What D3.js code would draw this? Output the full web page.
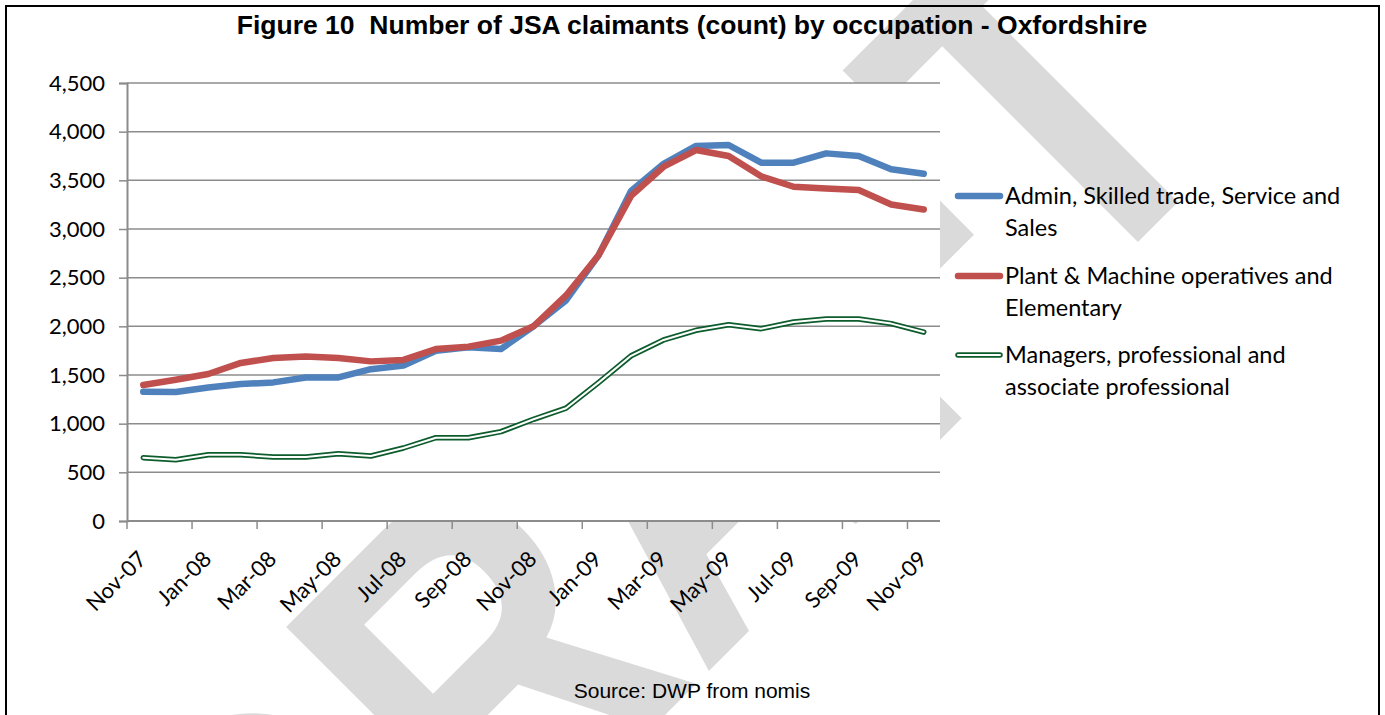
<!DOCTYPE html>
<html>
<head>
<meta charset="utf-8">
<script src="https://cdn.jsdelivr.net/npm/d3@7"></script>
<style>
    body { margin: 0; background: #ffffff; }
</style>
</head>
<body>
<script>
// Chart data
const MONTHS = ["Nov-07", "Dec-07", "Jan-08", "Feb-08", "Mar-08", "Apr-08", "May-08", "Jun-08",
    "Jul-08", "Aug-08", "Sep-08", "Oct-08", "Nov-08", "Dec-08", "Jan-09", "Feb-09", "Mar-09",
    "Apr-09", "May-09", "Jun-09", "Jul-09", "Aug-09", "Sep-09", "Oct-09", "Nov-09"];
const ADMIN = [1328, 1325, 1372, 1407, 1424, 1475, 1475, 1560, 1598, 1750, 1784, 1767, 2000,
    2267, 2730, 3390, 3670, 3853, 3863, 3681, 3681, 3777, 3750, 3613, 3567];
const PLANT = [1397, 1452, 1510, 1624, 1675, 1689, 1675, 1640, 1655, 1767, 1791, 1853, 2000,
    2317, 2730, 3340, 3640, 3811, 3750, 3541, 3434, 3417, 3400, 3252, 3200];
const MANAGERS = [651, 630, 681, 681, 657, 657, 692, 668, 750, 856, 856, 918, 1045,
    1159, 1422, 1697, 1860, 1959, 2017, 1976, 2045, 2076, 2076, 2028, 1941];
const Y_TICKS = [0, 500, 1000, 1500, 2000, 2500, 3000, 3500, 4000, 4500];
const X_LABELS = MONTHS.filter((m, i) => i % 2 === 0);
const SERIES_LABELS = [
    ["Admin, Skilled trade, Service and", "Sales"],
    ["Plant & Machine operatives and", "Elementary"],
    ["Managers, professional and", "associate professional"]
];
const TITLE = "Figure 10  Number of JSA claimants (count) by occupation - Oxfordshire";
const SOURCE = "Source: DWP from nomis";

const WIDTH = 1385;
const HEIGHT = 715;
const PLOT = { left: 127, right: 940, top: 83, bottom: 521 };
const BODY_FONT = "Lato, 'Open Sans', sans-serif";
const ARIAL = "'Liberation Sans', Arial, sans-serif";
const GRID = "#8c8c8c";

const xScale = d3.scaleBand().domain(MONTHS).range([PLOT.left, PLOT.right]);
const yScale = d3.scaleLinear().domain([0, 4500]).range([PLOT.bottom, PLOT.top]);
const xMid = m => xScale(m) + xScale.bandwidth() / 2;

const svg = d3.select("body").append("svg")
    .attr("width", WIDTH)
    .attr("height", HEIGHT)
    .attr("viewBox", [0, 0, WIDTH, HEIGHT]);

svg.append("rect").attr("width", WIDTH).attr("height", HEIGHT).style("fill", "#ffffff");

// DRAFT watermark behind everything (narrow bold, diagonal)
svg.append("text")
    .text("DRAFT")
    .attr("transform", "translate(300,1080) rotate(-45) scale(0.82,1)")
    .attr("text-anchor", "start")
    .style("font-family", ARIAL)
    .style("font-weight", "bold")
    .style("font-size", "480px")
    .style("fill", "#dadada");

// Outer frame
svg.append("rect")
    .attr("x", 6).attr("y", 6)
    .attr("width", 1373).attr("height", 740)
    .style("fill", "none")
    .style("stroke", "#000000")
    .style("stroke-width", 2);

// Plot area (white, hides the watermark)
svg.append("rect")
    .attr("x", PLOT.left).attr("y", PLOT.top)
    .attr("width", PLOT.right - PLOT.left)
    .attr("height", PLOT.bottom - PLOT.top)
    .style("fill", "#ffffff");

// Title
svg.append("text")
    .text(TITLE)
    .attr("x", 692).attr("y", 34)
    .attr("text-anchor", "middle")
    .style("white-space", "pre")
    .style("font-family", ARIAL)
    .style("font-weight", "bold")
    .style("font-size", "26.5px");

// Horizontal grid lines
svg.append("g")
    .selectAll("line")
    .data(Y_TICKS.filter(d => d > 0))
    .join("line")
    .attr("x1", PLOT.left).attr("x2", PLOT.right)
    .attr("y1", d => yScale(d)).attr("y2", d => yScale(d))
    .style("stroke", GRID)
    .style("stroke-width", 1.5);

// Y axis
const yAxis = svg.append("g")
    .attr("transform", `translate(${PLOT.left},0)`)
    .call(d3.axisLeft(yScale).tickValues(Y_TICKS).tickFormat(d3.format(",")).tickSize(8).tickPadding(14));
yAxis.select(".domain").style("stroke", GRID).style("stroke-width", 2);
yAxis.selectAll(".tick line").style("stroke", GRID).style("stroke-width", 1.5);
yAxis.selectAll("text")
    .style("font-family", BODY_FONT)
    .style("font-size", "22px")
    .style("fill", "#000");

// X axis: ticks on category boundaries every two months
const xAxis = svg.append("g")
    .attr("transform", `translate(0,${PLOT.bottom})`);
xAxis.append("line")
    .attr("x1", PLOT.left).attr("x2", PLOT.right)
    .style("stroke", GRID).style("stroke-width", 2);
xAxis.selectAll("line.tk")
    .data(X_LABELS)
    .join("line")
    .attr("class", "tk")
    .attr("x1", d => xScale(d)).attr("x2", d => xScale(d))
    .attr("y1", 0).attr("y2", 8)
    .style("stroke", GRID).style("stroke-width", 1.5);
xAxis.selectAll("text")
    .data(X_LABELS)
    .join("text")
    .text(d => d)
    .attr("transform", d => `translate(${xMid(d) - 1},34) rotate(-45)`)
    .attr("dy", "0.35em")
    .attr("text-anchor", "end")
    .style("font-family", BODY_FONT)
    .style("font-size", "22px");

// Lines
const line = d3.line()
    .x((d, i) => xMid(MONTHS[i]))
    .y(d => yScale(d));

function drawSeries(values, colour, width) {
    svg.append("path")
        .datum(values)
        .attr("d", line)
        .style("fill", "none")
        .style("stroke", colour)
        .style("stroke-width", width)
        .style("stroke-linejoin", "round")
        .style("stroke-linecap", "round");
}
drawSeries(ADMIN, "#4f81bd", 6.5);
drawSeries(PLANT, "#c0504d", 6.5);
drawSeries(MANAGERS, "#0d5c2c", 5.5);
drawSeries(MANAGERS, "#ffffff", 2);

// Legend
const legendY = [196, 276, 355];
const legendColours = ["#4f81bd", "#c0504d", "#0d5c2c"];
SERIES_LABELS.forEach(function(lines, k) {
    const g = svg.append("g").attr("transform", `translate(0,${legendY[k]})`);
    g.append("line")
        .attr("x1", 958).attr("x2", 1000)
        .style("stroke", legendColours[k])
        .style("stroke-width", k === 2 ? 5.5 : 6.5)
        .style("stroke-linecap", "round");
    if (k === 2) {
        g.append("line")
            .attr("x1", 958).attr("x2", 1000)
            .style("stroke", "#ffffff")
            .style("stroke-width", 2)
            .style("stroke-linecap", "round");
    }
    lines.forEach(function(t, j) {
        g.append("text")
            .text(t)
            .attr("x", 1005)
            .attr("y", 8 + j * 32)
            .style("font-family", BODY_FONT)
            .style("font-size", "23.5px");
    });
});

// Source note
svg.append("text")
    .text(SOURCE)
    .attr("x", 692).attr("y", 698)
    .attr("text-anchor", "middle")
    .style("font-family", ARIAL)
    .style("font-size", "21px");
</script>
</body>
</html>
